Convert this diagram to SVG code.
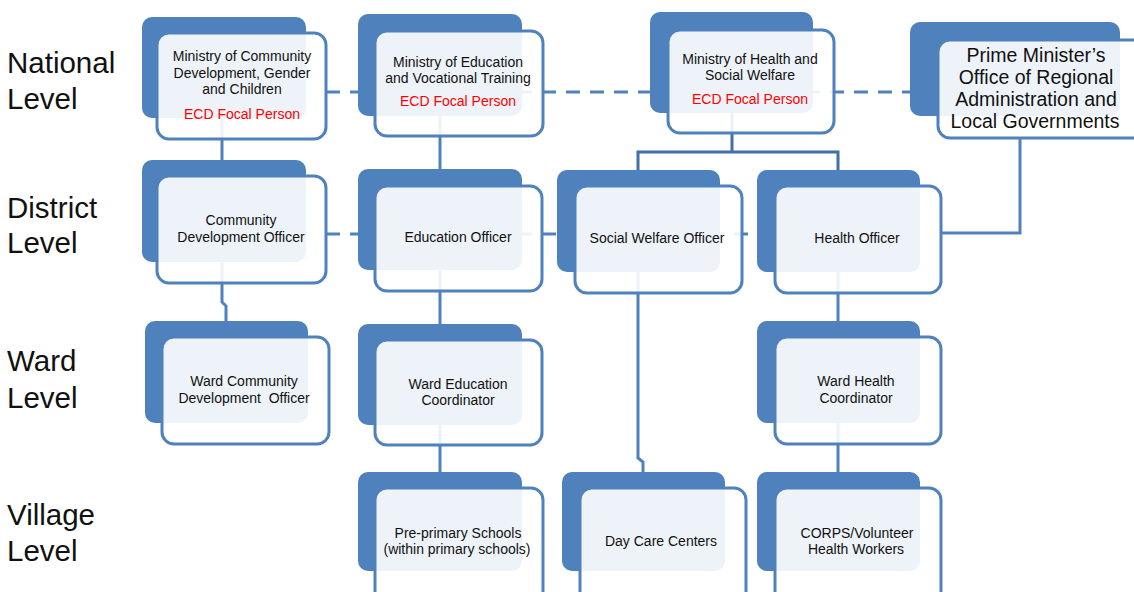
<svg xmlns="http://www.w3.org/2000/svg" width="1134" height="592" viewBox="0 0 1134 592">
<style>
.back{fill:#4F81BD}
.front{fill:#FFFFFF;fill-opacity:0.9;stroke:#4F81BD;stroke-width:3}
.t{font-family:"Liberation Sans",Arial,sans-serif;font-size:14px;fill:#111111;text-anchor:middle}
.red{fill:#FF0000}
.big{font-size:19.5px}
.lvl{font-family:"Liberation Sans",Arial,sans-serif;font-size:29.5px;fill:#111111}
.c{fill:none;stroke:#4F81BD;stroke-width:3}
.dash{stroke-dasharray:14 10}
.dk{stroke:#416FA6}
</style>
<rect width="1134" height="592" fill="#FFFFFF"/>
<g id="levels">
<text class="lvl" x="7" y="73">National</text>
<text class="lvl" x="7" y="109">Level</text>
<text class="lvl" x="7" y="218">District</text>
<text class="lvl" x="7" y="253">Level</text>
<text class="lvl" x="7" y="371">Ward</text>
<text class="lvl" x="7" y="408">Level</text>
<text class="lvl" x="7" y="525">Village</text>
<text class="lvl" x="7" y="561">Level</text>
</g>
<g id="connectors">
<path class="c dash" d="M326 92 H910"/>
<path class="c dash" d="M326 234 H757"/>
<path class="c" d="M222 118 V160"/>
<path class="c" d="M440 116 V169"/>
<path class="c dk" d="M732 113 V152 M638 170 V152 H838 V170"/>
<path class="c" d="M1020 139 V233 H941"/>
<path class="c" d="M222 262 V302 L226 306 V321"/>
<path class="c" d="M440 270 V324"/>
<path class="c" d="M638 272 V458 L643 462 V472"/>
<path class="c" d="M838 272 V321"/>
<path class="c" d="M440 425 V472"/>
<path class="c" d="M838 423 V472"/>
</g>
<g id="n-mocdgc">
<rect class="back" x="142" y="17" width="164" height="101" rx="10"/>
<rect class="front" x="157" y="33" width="169" height="106" rx="12"/>
<text class="t" x="242" y="61">Ministry of Community</text>
<text class="t" x="242" y="78">Development, Gender</text>
<text class="t" x="242" y="94">and Children</text>
<text class="t red" x="242" y="119">ECD Focal Person</text>
</g>
<g id="n-moevt">
<rect class="back" x="358" y="14" width="164" height="102" rx="10"/>
<rect class="front" x="375" y="31" width="168" height="105" rx="12"/>
<text class="t" x="458" y="67">Ministry of Education</text>
<text class="t" x="458" y="83">and Vocational Training</text>
<text class="t red" x="458" y="106">ECD Focal Person</text>
</g>
<g id="n-mohsw">
<rect class="back" x="650" y="12" width="163" height="101" rx="10"/>
<rect class="front" x="668" y="30" width="166" height="103" rx="12"/>
<text class="t" x="750" y="64">Ministry of Health and</text>
<text class="t" x="750" y="80">Social Welfare</text>
<text class="t red" x="750" y="104">ECD Focal Person</text>
</g>
<g id="n-pmoralg">
<rect class="back" x="910" y="22" width="210" height="94" rx="10"/>
<rect class="front" x="938" y="40" width="220" height="98" rx="12"/>
<text class="t big" x="1036" y="62">Prime Minister’s</text>
<text class="t big" x="1036" y="84">Office of Regional</text>
<text class="t big" x="1036" y="106">Administration and</text>
<text class="t big" x="1035" y="128">Local Governments</text>
</g>
<g id="n-cdo">
<rect class="back" x="142" y="160" width="164" height="102" rx="10"/>
<rect class="front" x="157" y="176" width="169" height="107" rx="12"/>
<text class="t" x="241" y="225">Community</text>
<text class="t" x="241" y="242">Development Officer</text>
</g>
<g id="n-eo">
<rect class="back" x="358" y="169" width="164" height="101" rx="10"/>
<rect class="front" x="375" y="186" width="167" height="105" rx="12"/>
<text class="t" x="458" y="242">Education Officer</text>
</g>
<g id="n-swo">
<rect class="back" x="557" y="170" width="163" height="102" rx="10"/>
<rect class="front" x="575" y="186" width="167" height="107" rx="12"/>
<text class="t" x="657" y="243">Social Welfare Officer</text>
</g>
<g id="n-ho">
<rect class="back" x="757" y="170" width="163" height="102" rx="10"/>
<rect class="front" x="775" y="186" width="166" height="107" rx="12"/>
<text class="t" x="857" y="243">Health Officer</text>
</g>
<g id="n-wcdo">
<rect class="back" x="145" y="321" width="163" height="102" rx="10"/>
<rect class="front" x="162" y="337" width="167" height="107" rx="12"/>
<text class="t" x="244" y="386">Ward Community</text>
<text class="t" x="244" y="403" xml:space="preserve">Development  Officer</text>
</g>
<g id="n-wec">
<rect class="back" x="358" y="324" width="164" height="101" rx="10"/>
<rect class="front" x="375" y="340" width="167" height="105" rx="12"/>
<text class="t" x="458" y="389">Ward Education</text>
<text class="t" x="458" y="405">Coordinator</text>
</g>
<g id="n-whc">
<rect class="back" x="757" y="321" width="163" height="102" rx="10"/>
<rect class="front" x="775" y="337" width="166" height="107" rx="12"/>
<text class="t" x="856" y="386">Ward Health</text>
<text class="t" x="856" y="403">Coordinator</text>
</g>
<g id="n-pps">
<rect class="back" x="358" y="472" width="164" height="99" rx="10"/>
<rect class="front" x="375" y="488" width="168" height="115" rx="12"/>
<text class="t" x="458" y="538">Pre-primary Schools</text>
<text class="t" x="457" y="554">(within primary schools)</text>
</g>
<g id="n-dcc">
<rect class="back" x="562" y="472" width="163" height="99" rx="10"/>
<rect class="front" x="580" y="488" width="166" height="115" rx="12"/>
<text class="t" x="661" y="546">Day Care Centers</text>
</g>
<g id="n-corps">
<rect class="back" x="757" y="472" width="163" height="99" rx="10"/>
<rect class="front" x="775" y="488" width="166" height="115" rx="12"/>
<text class="t" x="857" y="538">CORPS/Volunteer</text>
<text class="t" x="856" y="554">Health Workers</text>
</g>
</svg>
